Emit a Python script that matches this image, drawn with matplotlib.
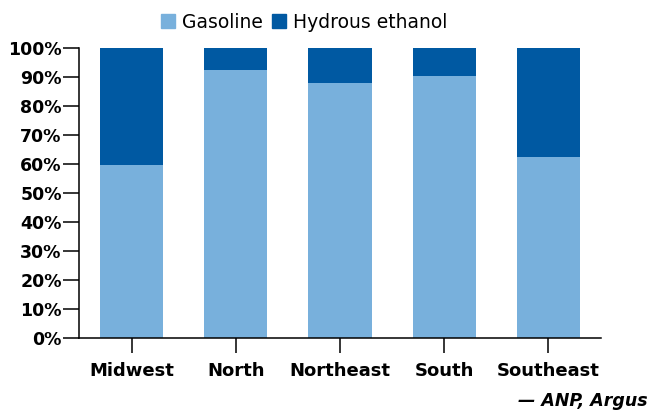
import matplotlib
matplotlib.use("Agg")
import matplotlib.pyplot as plt
from matplotlib.patches import Patch

categories = ["Midwest", "North", "Northeast", "South", "Southeast"]
gasoline = [59.7, 92.4, 88.0, 90.3, 62.4]
ethanol = [100 - g for g in gasoline]
yticks = [0, 10, 20, 30, 40, 50, 60, 70, 80, 90, 100]
ytick_labels = [f"{v}%" for v in yticks]

c_gas = "#78B0DC"
c_eth = "#0059A2"

plt.rcParams['font.family'] = ['DejaVu Sans']
fig = plt.figure(figsize=(6.51, 4.12), dpi=100)
ax = fig.add_axes([79/651, 1-338/412, (601-79)/651, (338-48)/412])

x = list(range(len(categories)))
ax.bar(x, gasoline, width=0.605, color=c_gas, label="Gasoline")
ax.bar(x, ethanol, width=0.605, bottom=gasoline, color=c_eth, label="Hydrous ethanol")

ax.set_xlim(-0.505, 4.505)
ax.set_ylim(0, 100)
ax.set_yticks(yticks)
ax.set_yticklabels(ytick_labels, fontweight="bold", fontsize=12.5)
ax.set_xticks(x)
ax.set_xticklabels(categories, fontweight="bold", fontsize=13)
ax.tick_params(axis="y", direction="out", length=11.5, width=1.1, pad=1)
ax.tick_params(axis="x", direction="out", length=11, width=1.1, pad=6)
for s in ["top", "right"]:
    ax.spines[s].set_visible(False)
for s in ["left", "bottom"]:
    ax.spines[s].set_linewidth(1.1)

handles = [Patch(color=c_gas, label="Gasoline"), Patch(color=c_eth, label="Hydrous ethanol")]
fig.legend(handles=handles, loc="center", bbox_to_anchor=(0.467, 1-22/412), ncol=2,
           frameon=False, fontsize=13.5, handlelength=0.75, handleheight=0.75,
           handletextpad=0.35, columnspacing=0.5)

fig.text(648/651, 1-401/412, "— ANP, Argus", ha="right", va="center",
         fontsize=12.5, fontweight="bold", fontstyle="italic")

fig.savefig("out.png", dpi=100)
